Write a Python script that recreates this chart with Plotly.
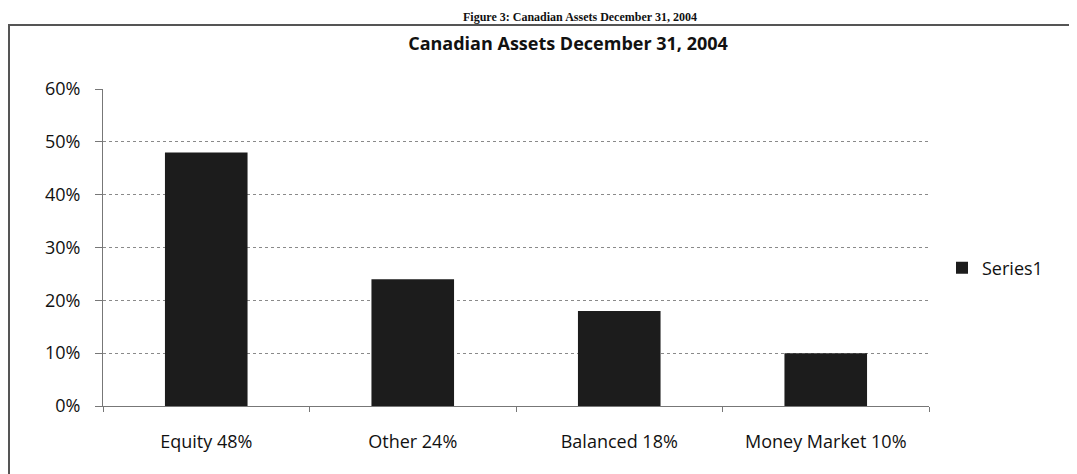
import plotly.graph_objects as go

categories = ["Equity 48%", "Other 24%", "Balanced 18%", "Money Market 10%"]
values = [0.48, 0.24, 0.18, 0.10]
y_ticks = [0, 0.1, 0.2, 0.3, 0.4, 0.5, 0.6]
y_tick_labels = ["0%", "10%", "20%", "30%", "40%", "50%", "60%"]

# the page body has an 8px margin, so the figure is drawn 8px smaller
OFF = 8
W, H = 1077 - OFF, 474 - OFF
# plot area in page pixels: x 103..929, y 89..406
L, T = 103 - OFF, 89 - OFF
R, B = W - (929 - OFF), H - (406 - OFF)
pw, ph = W - L - R, H - T - B
FONT = "Open Sans, Lato, sans-serif"


def px_x(x):
    # page pixel -> paper x
    return (x - OFF - L) / pw


def px_y(y):
    # page pixel -> paper y
    return (H - B - (y - OFF)) / ph


fig = go.Figure(
    data=go.Bar(
        x=categories,
        y=values,
        name="Series1",
        marker=dict(color="#1c1c1c", line=dict(width=0)),
        showlegend=True,
    )
)

fig.update_layout(
    width=W,
    height=H,
    margin=dict(l=L, r=R, t=T, b=B),
    paper_bgcolor="white",
    plot_bgcolor="white",
    font=dict(family=FONT, color="#111111", size=18),
    bargap=0.6,
    title=dict(
        text="<b>Canadian Assets December 31, 2004</b>",
        x=(568 - OFF) / W, xanchor="center",
        y=1 - (44 - OFF) / H, yanchor="middle",
        font=dict(size=18, family=FONT, color="#111111"),
    ),
    legend=dict(
        x=px_x(942), xanchor="left",
        y=px_y(268), yanchor="middle",
        font=dict(size=18),
        itemwidth=30,
    ),
    showlegend=True,
)

fig.update_xaxes(
    showgrid=False,
    showline=True, linecolor="#777777", linewidth=1,
    ticks="outside", tickson="boundaries", ticklen=5, tickcolor="#777777",
    ticklabelstandoff=19,
    tickfont=dict(size=18),
    range=[-0.5, 3.5],
)
fig.update_yaxes(
    range=[0, 0.6],
    tickvals=y_ticks, ticktext=y_tick_labels,
    showgrid=True, gridcolor="#8a8a8a", griddash="dot", gridwidth=1,
    showline=True, linecolor="#777777", linewidth=1,
    ticks="outside", ticklen=7, tickcolor="#777777",
    ticklabelstandoff=11,
    tickfont=dict(size=18),
    zeroline=False,
)

# outer chart border
fig.add_shape(
    type="rect", xref="paper", yref="paper",
    x0=px_x(9), x1=px_x(1074), y0=px_y(500), y1=px_y(25),
    line=dict(color="#555555", width=2), fillcolor="rgba(0,0,0,0)",
    layer="below",
)

# figure caption above the chart box
fig.add_annotation(
    text="<b>Figure 3: Canadian Assets December 31, 2004</b>",
    xref="paper", yref="paper",
    x=px_x(580), xanchor="center",
    y=px_y(9), yanchor="top",
    showarrow=False, borderpad=0,
    font=dict(family="Liberation Serif, Times New Roman, serif", size=12, color="#111111"),
)

fig.write_html("out.html")
